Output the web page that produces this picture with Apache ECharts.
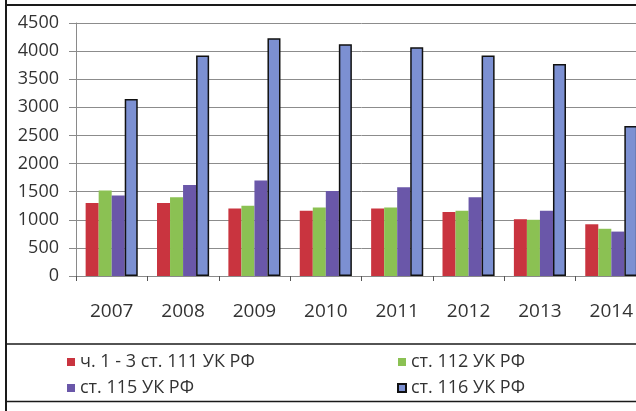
<!DOCTYPE html>
<html>
<head>
<meta charset="utf-8">
<script src="https://cdn.jsdelivr.net/npm/echarts@6/dist/echarts.min.js"></script>
<style>
  html, body { margin: 0; padding: 0; background: #fff; overflow: hidden; }
  #chart { width: 660px; height: 411px; }
</style>
</head>
<body>
<div id="chart"></div>
<script>
// Число осуждённых по статьям УК РФ, 2007–2014
var years = ['2007', '2008', '2009', '2010', '2011', '2012', '2013', '2014'];
var st111 = [1300, 1300, 1200, 1160, 1200, 1140, 1010, 920];
var st112 = [1520, 1400, 1250, 1220, 1220, 1160, 1000, 840];
var st115 = [1430, 1620, 1700, 1510, 1580, 1400, 1160, 790];
var st116 = [3150, 3920, 4230, 4120, 4070, 3920, 3770, 2670];
var yTicks = { min: 0, max: 4500, interval: 500 };

var names = ['ч. 1 - 3 ст. 111 УК РФ', 'ст. 112 УК РФ', 'ст. 115 УК РФ', 'ст. 116 УК РФ'];
var colors = ['#c9343f', '#8bc153', '#6a57a9', '#7c90d2'];
var font = 'Open Sans';

var chart = echarts.init(document.getElementById('chart'), null, { renderer: 'canvas' });

function bar(i, data, bordered) {
  return {
    name: names[i],
    type: 'bar',
    data: data,
    barGap: '0%',
    barCategoryGap: '27%',
    itemStyle: {
      color: colors[i],
      borderColor: bordered ? '#111' : colors[i],
      borderWidth: bordered ? 1.5 : 0
    },
    emphasis: { disabled: true }
  };
}

function legend(left, list) {
  return {
    orient: 'vertical',
    left: left,
    top: 348,
    itemWidth: 8,
    itemHeight: 8,
    itemGap: 8,
    icon: 'rect',
    data: list,
    textStyle: { fontFamily: font, fontSize: 18, color: '#333' }
  };
}

chart.setOption({
  animation: false,
  backgroundColor: '#fff',
  textStyle: { fontFamily: font },
  grid: { left: 76, top: 23, width: 571, height: 253, containLabel: false },
  legend: [
    legend(62, [names[0], names[2]]),
    legend(392, [names[1], names[3]])
  ],
  xAxis: {
    type: 'category',
    data: years,
    axisLine: { lineStyle: { color: '#8a8a8a', width: 1 } },
    axisTick: { show: true, length: 5, lineStyle: { color: '#555' } },
    axisLabel: { fontFamily: font, fontSize: 19, color: '#333', margin: 26 }
  },
  yAxis: {
    type: 'value',
    min: yTicks.min,
    max: yTicks.max,
    interval: yTicks.interval,
    axisLine: { show: true, lineStyle: { color: '#8a8a8a', width: 1 } },
    axisTick: { show: true, length: 7, lineStyle: { color: '#8a8a8a' } },
    axisLabel: {
      fontFamily: font, fontSize: 18, color: '#333', margin: 17,
      formatter: function (v) { return String(v); }
    },
    splitLine: { show: true, lineStyle: { color: '#8c8c8c', width: 1 } }
  },
  series: [
    bar(0, st111, false),
    bar(1, st112, false),
    bar(2, st115, false),
    bar(3, st116, true)
  ],
  graphic: [
    // рамка диаграммы и блок легенды
    { type: 'line', shape: { x1: 6, y1: 0, x2: 6, y2: 411 }, style: { stroke: '#1a1a1a', lineWidth: 2 } },
    { type: 'line', shape: { x1: 5, y1: 5, x2: 660, y2: 5 }, style: { stroke: '#1a1a1a', lineWidth: 2 } },
    { type: 'line', shape: { x1: 6, y1: 344, x2: 660, y2: 344 }, style: { stroke: '#1a1a1a', lineWidth: 1.5 } },
    { type: 'line', shape: { x1: 6, y1: 401.5, x2: 660, y2: 401.5 }, style: { stroke: '#1a1a1a', lineWidth: 1.5 } }
  ]
});
</script>
</body>
</html>
